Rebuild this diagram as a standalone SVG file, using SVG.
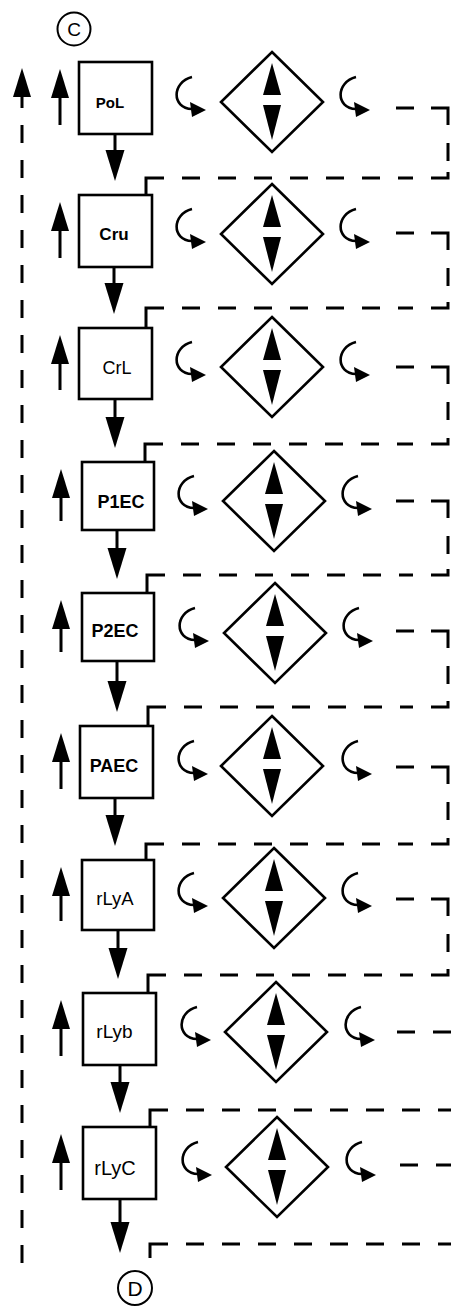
<svg xmlns="http://www.w3.org/2000/svg" xmlns:xlink="http://www.w3.org/1999/xlink" width="451" height="1309" viewBox="0 0 451 1309">
<style>
.box{fill:#fff;stroke:#000;stroke-width:2.6}
.dia{fill:#fff;stroke:#000;stroke-width:2.6}
.sh{fill:none;stroke:#000;stroke-width:3}
.dash{fill:none;stroke:#000;stroke-width:3;stroke-dasharray:18 18}
.solid{fill:none;stroke:#000;stroke-width:3}
.curlp{fill:none;stroke:#000;stroke-width:2.6}
.lbl{font-family:"Liberation Sans",Arial,sans-serif;fill:#000;text-anchor:middle}
.b{font-weight:bold}
.circ{fill:#fff;stroke:#000;stroke-width:2}
</style>
<defs>
<polygon id="hUp" points="0,0 9,29 -9,29" fill="#000"/>
<polygon id="hDn" points="0,0 -9.5,-31 9.5,-31" fill="#000"/>
<g id="curl">
<path class="curlp" d="M-80,-25 C-100,-20 -101,6 -80,7"/>
<polygon points="-66,8 -82,0 -80,15" fill="#000"/>
</g>
<g id="dmd">
<polygon class="dia" points="0,-50 51,0 0,50 -51,0"/>
<polygon points="0,-39 -9,-7 9,-7" fill="#000"/>
<polygon points="-9,3 9,3 0,38" fill="#000"/>
</g>
</defs>

<g id="term-C"><circle class="circ" cx="74" cy="29" r="16.5"/><text class="lbl" x="74" y="36" font-size="19">C</text></g>
<g id="term-D"><circle class="circ" cx="135" cy="1288" r="17"/><text class="lbl" x="135" y="1296" font-size="21">D</text></g>

<g id="node-PoL"><rect class="box" x="79" y="62" width="73" height="72"/><text class="lbl b" x="110" y="108" font-size="15">PoL</text></g>
<g id="node-Cru"><rect class="box" x="79" y="195" width="73" height="72"/><text class="lbl b" x="114" y="240" font-size="17">Cru</text></g>
<g id="node-CrL"><rect class="box" x="79" y="328" width="73" height="71"/><text class="lbl" x="117" y="374" font-size="18">CrL</text></g>
<g id="node-P1EC"><rect class="box" x="82" y="462" width="72" height="68"/><text class="lbl b" x="121" y="508" font-size="18">P1EC</text></g>
<g id="node-P2EC"><rect class="box" x="82" y="593" width="72" height="68"/><text class="lbl b" x="115" y="637" font-size="18">P2EC</text></g>
<g id="node-PAEC"><rect class="box" x="80" y="726" width="73" height="72"/><text class="lbl b" x="114" y="772" font-size="18">PAEC</text></g>
<g id="node-rLyA"><rect class="box" x="82" y="860" width="72" height="70"/><text class="lbl" x="115" y="905" font-size="18.5">rLyA</text></g>
<g id="node-rLyb"><rect class="box" x="83" y="993" width="73" height="72"/><text class="lbl" x="114.5" y="1038" font-size="19">rLyb</text></g>
<g id="node-rLyC"><rect class="box" x="83" y="1127" width="73" height="72"/><text class="lbl" x="115" y="1175" font-size="20">rLyC</text></g>

<g id="diamond-1"><use xlink:href="#dmd" href="#dmd" x="272" y="102"/></g>
<g id="diamond-2"><use xlink:href="#dmd" href="#dmd" x="272" y="234"/></g>
<g id="diamond-3"><use xlink:href="#dmd" href="#dmd" x="272" y="367"/></g>
<g id="diamond-4"><use xlink:href="#dmd" href="#dmd" x="274" y="501"/></g>
<g id="diamond-5"><use xlink:href="#dmd" href="#dmd" x="275" y="633"/></g>
<g id="diamond-6"><use xlink:href="#dmd" href="#dmd" x="272" y="766"/></g>
<g id="diamond-7"><use xlink:href="#dmd" href="#dmd" x="274" y="898"/></g>
<g id="diamond-8"><use xlink:href="#dmd" href="#dmd" x="276" y="1032"/></g>
<g id="diamond-9"><use xlink:href="#dmd" href="#dmd" x="277" y="1167"/></g>

<g id="connectors">
<!-- left long dashed return arrow -->
<path class="sh" d="M22,1263 V97" style="stroke-dasharray:18 17"/>
<use xlink:href="#hUp" href="#hUp" x="22" y="68"/>

<!-- small up arrows -->
<path class="sh" d="M60,125 V90 M60,258 V225 M60,390 V358 M61,521 V490 M61,652 V620 M61,789 V755 M61,921 V890 M61,1056 V1022 M61,1190 V1156"/>
<use xlink:href="#hUp" href="#hUp" x="60" y="69"/>
<use xlink:href="#hUp" href="#hUp" x="60" y="202"/>
<use xlink:href="#hUp" href="#hUp" x="60" y="335"/>
<use xlink:href="#hUp" href="#hUp" x="61" y="469"/>
<use xlink:href="#hUp" href="#hUp" x="61" y="600"/>
<use xlink:href="#hUp" href="#hUp" x="61" y="733"/>
<use xlink:href="#hUp" href="#hUp" x="61" y="867"/>
<use xlink:href="#hUp" href="#hUp" x="61" y="1000"/>
<use xlink:href="#hUp" href="#hUp" x="61" y="1134"/>

<!-- down arrows between boxes -->
<path class="sh" d="M115,134 V152 M114,267 V285 M115,399 V418 M117,530 V549 M117,661 V683 M115,798 V818 M118,930 V950 M120,1065 V1084 M120,1199 V1224"/>
<use xlink:href="#hDn" href="#hDn" x="115" y="181"/>
<use xlink:href="#hDn" href="#hDn" x="114" y="314"/>
<use xlink:href="#hDn" href="#hDn" x="115" y="448"/>
<use xlink:href="#hDn" href="#hDn" x="117" y="579"/>
<use xlink:href="#hDn" href="#hDn" x="117" y="712"/>
<use xlink:href="#hDn" href="#hDn" x="115" y="846"/>
<use xlink:href="#hDn" href="#hDn" x="118" y="979"/>
<use xlink:href="#hDn" href="#hDn" x="120" y="1113"/>
<use xlink:href="#hDn" href="#hDn" x="120" y="1253"/>

<!-- curl arrows -->
<use xlink:href="#curl" href="#curl" x="272" y="102"/><use xlink:href="#curl" href="#curl" x="436" y="102"/>
<use xlink:href="#curl" href="#curl" x="272" y="234"/><use xlink:href="#curl" href="#curl" x="436" y="234"/>
<use xlink:href="#curl" href="#curl" x="272" y="367"/><use xlink:href="#curl" href="#curl" x="436" y="367"/>
<use xlink:href="#curl" href="#curl" x="274" y="501"/><use xlink:href="#curl" href="#curl" x="438" y="501"/>
<use xlink:href="#curl" href="#curl" x="275" y="633"/><use xlink:href="#curl" href="#curl" x="439" y="633"/>
<use xlink:href="#curl" href="#curl" x="274" y="766"/><use xlink:href="#curl" href="#curl" x="438" y="766"/>
<use xlink:href="#curl" href="#curl" x="274" y="898"/><use xlink:href="#curl" href="#curl" x="438" y="898"/>
<use xlink:href="#curl" href="#curl" x="277" y="1032"/><use xlink:href="#curl" href="#curl" x="441" y="1032"/>
<use xlink:href="#curl" href="#curl" x="278" y="1167"/><use xlink:href="#curl" href="#curl" x="442" y="1167"/>

<!-- dashed feedback loops: solid corners/hooks -->
<path class="solid" d="
M431,108 H448 V125 M448,172 V178 H431 M164,178 H146 V195
M431,233 H448 V250 M448,302 V308 H431 M164,308 H146 V328
M431,367 H448 V384 M448,438 V444 H431 M163,444 H145 V462
M431,501 H448 V518 M448,569 V575 H431 M165,575 H147 V593
M431,631 H448 V648 M448,701 V707 H431 M166,707 H148 V726
M431,767 H448 V784 M448,838 V844 H431 M164,844 H146 V860
M431,899 H448 V916 M448,969 V975 H431 M166,975 H148 V993
M168,1110 H150 V1127
M168,1244 H150 V1258"/>
<!-- dashed parts -->
<path class="dash" d="
M396,108 H414 M448,143 V161 M182,178 H413
M396,233 H414 M448,268 V286 M182,308 H413
M396,367 H414 M448,402 V420 M181,444 H413
M396,501 H414 M448,536 V554 M183,575 H413
M396,631 H414 M448,666 V684 M184,707 H413
M396,767 H414 M448,802 V820 M182,844 H413
M396,899 H414 M448,934 V952 M184,975 H413
M397,1032 H451 M186,1110 H451
M400,1165 H451 M186,1244 H451"/>
</g>
</svg>
